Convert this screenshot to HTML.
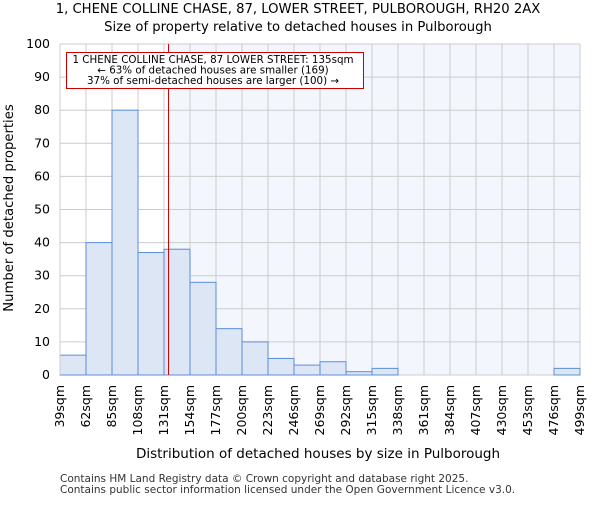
<!DOCTYPE html>
<html><head><meta charset="utf-8"><style>
body{margin:0;background:#fff;}
svg{font-family:"DejaVu Sans","Liberation Sans",sans-serif;}
</style></head><body>
<svg id="chart" width="600" height="500" xmlns="http://www.w3.org/2000/svg">
<text x="298" y="13" text-anchor="middle" font-size="13.2">1, CHENE COLLINE CHASE, 87, LOWER STREET, PULBOROUGH, RH20 2AX</text>
<text x="298" y="31" text-anchor="middle" font-size="13.2">Size of property relative to detached houses in Pulborough</text>
<g id="plot"></g>
<text x="318" y="458" text-anchor="middle" font-size="13.5">Distribution of detached houses by size in Pulborough</text>
<text transform="translate(13,208) rotate(-90)" text-anchor="middle" font-size="13.2">Number of detached properties</text>
<text x="60" y="482" font-size="10.5" fill="#333">Contains HM Land Registry data © Crown copyright and database right 2025.</text>
<text x="60" y="493" font-size="10.5" fill="#333">Contains public sector information licensed under the Open Government Licence v3.0.</text>
</svg>
<script>
const binStarts=[39,62,85,108,131,154,177,200,223,246,269,292,315,338,361,384,407,430,453,476];
const counts=[6,40,80,37,38,28,14,10,5,3,4,1,2,0,0,0,0,0,0,2];
const xTickLabels=["39sqm","62sqm","85sqm","108sqm","131sqm","154sqm","177sqm","200sqm","223sqm","246sqm","269sqm","292sqm","315sqm","338sqm","361sqm","384sqm","407sqm","430sqm","453sqm","476sqm","499sqm"];
const yTicks=[0,10,20,30,40,50,60,70,80,90,100];
const propertySize=135;
const binWidth=23;
const NS="http://www.w3.org/2000/svg";
const L=60,R=580,T=44,B=375;
const xMin=39,xMax=499,yMax=100;
const xs=v=>L+(v-xMin)/(xMax-xMin)*(R-L);
const ys=v=>B-v/yMax*(B-T);
const g=document.getElementById('plot');
function mk(tag,attrs){const e=document.createElementNS(NS,tag);for(const k in attrs)e.setAttribute(k,attrs[k]);g.appendChild(e);return e;}
const px=xs(propertySize);
let bg=mk('rect',{x:px,y:T,width:R-px,height:B-T,fill:'#f3f6fd'});


yTicks.forEach(t=>{
  let l=mk('line',{x1:L,x2:R,y1:ys(t),y2:ys(t),stroke:'#cccccc','stroke-width':1});
  
  
  let tx=mk('text',{x:L-10,y:ys(t)+4,'text-anchor':'end','font-size':12.5});
  tx.textContent=t;
  
  
});
xTickLabels.forEach((lab,i)=>{
  const v=xMin+i*binWidth;
  let l=mk('line',{x1:xs(v),x2:xs(v),y1:T,y2:B,stroke:'#cccccc','stroke-width':1});
  
  
  let tx=mk('text',{transform:`translate(${xs(v)+4},${B+10}) rotate(-90)`,'text-anchor':'end','font-size':12.5});
  tx.textContent=lab;
  
  
});
binStarts.forEach((s,i)=>{
  if(counts[i]<=0)return;
  let r=mk('rect',{x:xs(s),y:ys(counts[i]),width:xs(s+binWidth)-xs(s),height:B-ys(counts[i]),fill:'#dce6f5',stroke:'#5b8ed8','stroke-width':1});
  
  
});
let ax=mk('line',{x1:L,x2:L,y1:T,y2:B,stroke:'#cccccc'});


let rl=mk('line',{x1:px,x2:px,y1:T,y2:B,stroke:'#cc0000','stroke-width':1});


let box=mk('rect',{x:66.5,y:52.5,width:297,height:36,fill:'#fff',stroke:'#cc0000','stroke-width':1});


const lines=["1 CHENE COLLINE CHASE, 87 LOWER STREET: 135sqm","← 63% of detached houses are smaller (169)","37% of semi-detached houses are larger (100) →"];
lines.forEach((t,i)=>{
  let tx=mk('text',{x:213,y:63+i*10.5,'text-anchor':'middle','font-size':10.3});
  tx.textContent=t;
  
  
});
</script>
</body></html>
